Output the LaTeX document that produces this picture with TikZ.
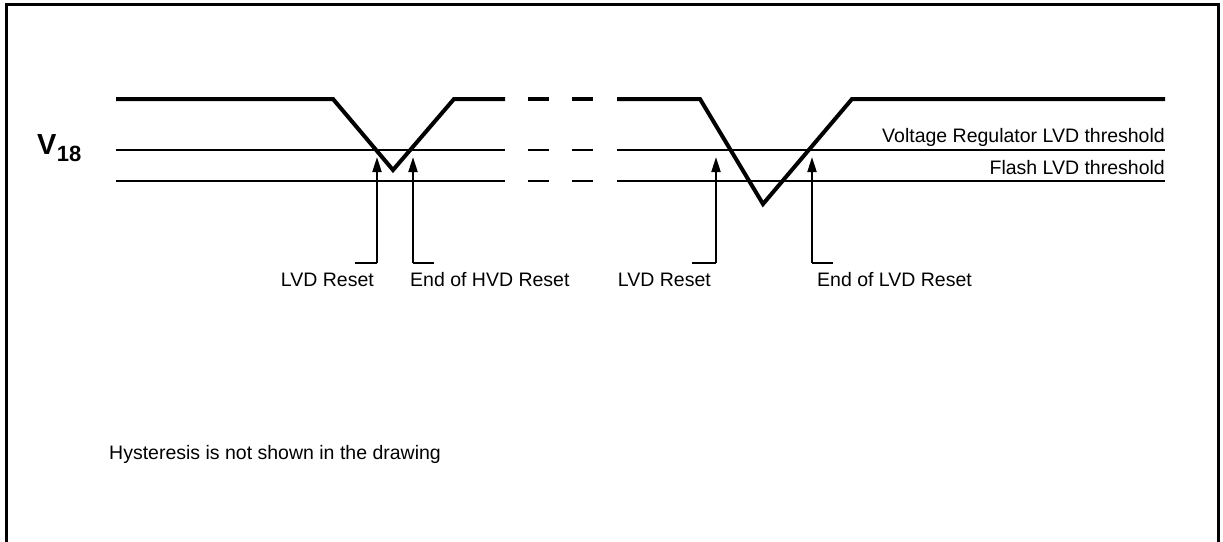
\documentclass[tikz,border=0pt]{standalone}
\usepackage{fontspec}
\setmainfont{Liberation Sans}
\usetikzlibrary{arrows.meta}
\tikzset{
  sig/.style={line width=4pt, line join=miter},
  thr/.style={line width=2pt},
  frm/.style={line width=3pt},
  uparr/.style={line width=2pt, -{Triangle[length=15pt,width=9pt]}},
  tick/.style={line width=2pt},
  lbl/.style={inner sep=0pt, font=\fontsize{19.5}{22}\selectfont},
}
\begin{document}
\begin{tikzpicture}[x=1pt,y=-1pt]
\useasboundingbox (0,0) rectangle (1223,541);
% frame
\draw[frm] (6,545) -- (6,4) -- (1218,4) -- (1218,545);
% signal (thick)
\coordinate (s0) at (116,99);
\coordinate (s1) at (333,99);
\coordinate (s2) at (393,170);
\coordinate (s3) at (454,99);
\coordinate (s4) at (505,99);
\draw[sig] (s0) -- (s1) -- (s2) -- (s3) -- (s4);
\draw[sig] (528,99) -- (549,99);
\draw[sig] (572,99) -- (593,99);
\coordinate (r0) at (617,99);
\coordinate (r1) at (700,99);
\coordinate (r2) at (763,204);
\coordinate (r3) at (852,99);
\coordinate (r4) at (1165,99);
\draw[sig] (r0) -- (r1) -- (r2) -- (r3) -- (r4);
% thresholds
\foreach \yy in {150,181}{
  \draw[thr] (116,\yy) -- (505,\yy);
  \draw[thr] (528,\yy) -- (549,\yy);
  \draw[thr] (572,\yy) -- (593,\yy);
  \draw[thr] (617,\yy) -- (1165,\yy);
}
% arrows
\coordinate (a1b) at (377,263); \coordinate (a1t) at (377,157); \coordinate (k1) at (355,263);
\coordinate (a2b) at (413,263); \coordinate (a2t) at (413,157); \coordinate (k2) at (434,263);
\coordinate (a3b) at (716,263); \coordinate (a3t) at (716,157); \coordinate (k3) at (692,263);
\coordinate (a4b) at (812,263); \coordinate (a4t) at (812,157); \coordinate (k4) at (833,263);
\draw[uparr] (a1b) -- (a1t); \draw[tick] (k1) -- (a1b);
\draw[uparr] (a2b) -- (a2t); \draw[tick] (k2) -- (a2b);
\draw[uparr] (a3b) -- (a3t); \draw[tick] (k3) -- (a3b);
\draw[uparr] (a4b) -- (a4t); \draw[tick] (k4) -- (a4b);
% labels
\node[lbl, anchor=base east] (l1) at (374,286) {LVD Reset};
\node[lbl, anchor=base west] (l2) at (410,286) {End of HVD Reset};
\node[lbl, anchor=base east] (l3) at (711,286) {LVD Reset};
\node[lbl, anchor=base west] (l4) at (817,286) {End of LVD Reset};
\node[lbl, anchor=base east] (vr) at (1165,142) {Voltage Regulator LVD threshold};
\node[lbl, anchor=base east] (fl) at (1165,174) {Flash LVD threshold};
\node[lbl, anchor=base west] (hy) at (109,459) {Hysteresis is not shown in the drawing};
\node[inner sep=0pt, anchor=base west, font=\fontsize{29}{32}\selectfont\bfseries] (v) at (37,154) {V};
\node[inner sep=0pt, anchor=base west, font=\fontsize{22}{26}\selectfont\bfseries] (vs) at (v.base east) [yshift=-7pt] {18};
\end{tikzpicture}
\end{document}
